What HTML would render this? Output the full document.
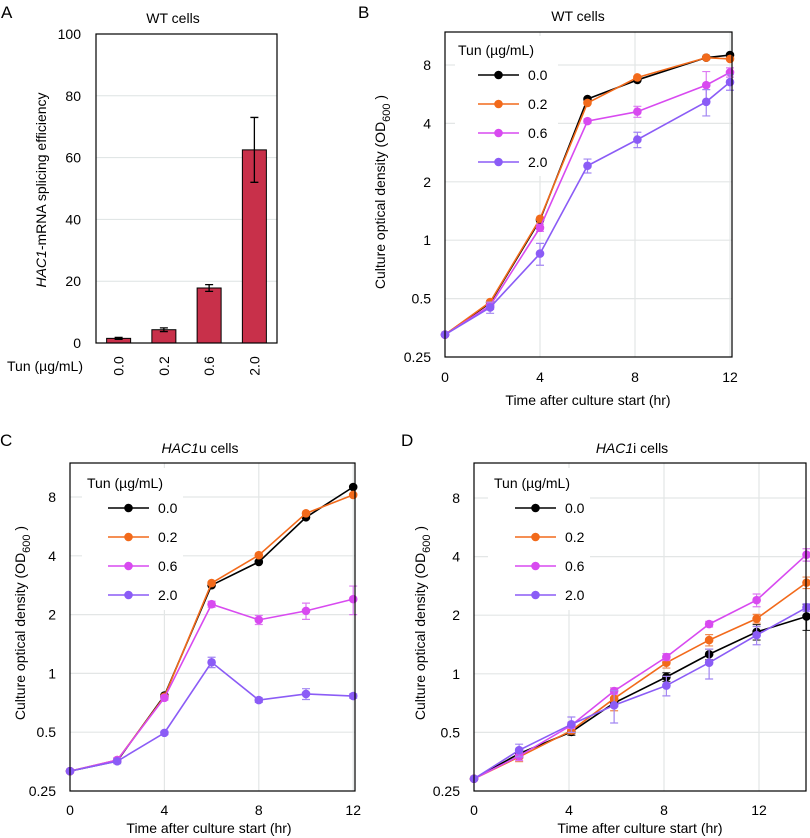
<!DOCTYPE html>
<html><head><meta charset="utf-8"><style>
html,body{margin:0;padding:0;background:#fff;}
svg{display:block;font-family:"Liberation Sans",sans-serif;}
</style></head><body>
<svg id="fig" width="810" height="838" viewBox="0 0 810 838" xmlns="http://www.w3.org/2000/svg"></svg>
<script>
// ---------- Panel A data ----------
const aCategories = ["0.0","0.2","0.6","2.0"];
const aValues = [1.5, 4.3, 17.8, 62.5];
const aErrors = [0.3, 0.6, 1.1, 10.5];
const aTicks = [0,20,40,60,80,100];
// ---------- Panel B data ----------
const bTimes = [0, 1.9, 4, 6, 8.1, 11, 12];
const bBlack = [0.326, 0.475, 1.27, 5.34, 6.7, 8.73, 9.0];
const bOrange = [0.326, 0.48, 1.29, 5.1, 6.9, 8.73, 8.6];
const bMagenta = [0.326, 0.46, 1.16, 4.11, 4.6, 6.3, 7.33];
const bPurple = [0.326, 0.45, 0.853, 2.42, 3.3, 5.17, 6.53];
const bMagentaErr = [0, 0.02, 0.05, 0.1, 0.3, 1.1, 0.4];
const bPurpleErr = [0, 0.03, 0.11, 0.2, 0.3, 0.8, 0.6];
// ---------- Panel C data ----------
const cTimes = [0, 2, 4, 6, 8, 10, 12];
const cBlack = [0.316, 0.356, 0.77, 2.83, 3.72, 6.3, 9.0];
const cOrange = [0.316, 0.36, 0.76, 2.9, 4.03, 6.6, 8.2];
const cMagenta = [0.316, 0.36, 0.75, 2.26, 1.88, 2.09, 2.4];
const cPurple = [0.316, 0.355, 0.496, 1.14, 0.73, 0.785, 0.766];
const cMagentaErr = [0, 0.01, 0.02, 0.08, 0.1, 0.2, 0.4];
const cPurpleErr = [0, 0.01, 0.01, 0.07, 0.02, 0.05, 0.02];
// ---------- Panel D data ----------
const dTimes = [0, 1.9, 4.1, 5.9, 8.1, 9.9, 11.9, 14];
const dBlack = [0.289, 0.389, 0.503, 0.708, 0.963, 1.26, 1.64, 1.97];
const dOrange = [0.289, 0.374, 0.511, 0.746, 1.14, 1.49, 1.92, 2.94];
const dMagenta = [0.289, 0.378, 0.544, 0.816, 1.22, 1.8, 2.39, 4.09];
const dPurple = [0.289, 0.405, 0.55, 0.689, 0.87, 1.14, 1.58, 2.19];
const dBlackErr = [0, 0.02, 0.02, 0.03, 0.05, 0.08, 0.15, 0.3];
const dOrangeErr = [0, 0.02, 0.02, 0.1, 0.07, 0.1, 0.1, 0.2];
const dMagentaErr = [0, 0.02, 0.02, 0.03, 0.05, 0.06, 0.18, 0.3];
const dPurpleErr = [0, 0.03, 0.05, 0.13, 0.1, 0.2, 0.17, 0.1];
const yTicksLog = [0.25, 0.5, 1, 2, 4, 8];
const xTicks = [0, 4, 8, 12];
const legendLabels = ["0.0","0.2","0.6","2.0"];

const NS = "http://www.w3.org/2000/svg";
const svg = document.getElementById("fig");
function el(tag, attrs, parent) {
  const e = document.createElementNS(NS, tag);
  for (const k in attrs) e.setAttribute(k, attrs[k]);
  (parent || svg).appendChild(e);
  return e;
}
function txt(s, attrs, parent) { const t = el("text", attrs, parent); t.textContent = s; return t; }
const COLORS = ["#000000", "#f26a1b", "#d84af0", "#8b5cf6"];
const ERRCOL = ["#333333", "#f08a50", "#dd7af2", "#a286f2"];

// ---------- Panel A ----------
(function(){
  const g = el("g", {});
  
  
  const L = 96, R = 277, T = 34, B = 343;
  const y = v => B - (v / 100) * (B - T);
  const step = (R - L) / aCategories.length;
  const x = i => L + step * (i + 0.5);
  const lab = txt("A", {x: 1, y: 18, "font-size": 17}, g);
  
  
  const t = txt("WT cells", {x: 173, y: 23, "font-size": 14, "text-anchor": "middle"}, g);
  
  
  aTicks.forEach(v => {
    if (v > 0 && v < 100) {
      const gl = el("line", {x1: L, x2: R, y1: y(v), y2: y(v), stroke: "#dde3e3", "stroke-width": 1}, g);
      
      
    }
    const tl = txt(String(v), {x: 81, y: y(v) + 5, "font-size": 14, "text-anchor": "end"}, g);
    
    
  });
  aValues.forEach((v, i) => {
    const bw = 24;
    const r = el("rect", {x: x(i) - bw/2, y: y(v), width: bw, height: B - y(v), fill: "#c8304a", stroke: "#000", "stroke-width": 1}, g);
    
    
    const e = aErrors[i];
    const eb = el("path", {d: `M${x(i)} ${y(v+e)}V${y(v-e)}M${x(i)-4} ${y(v+e)}h8M${x(i)-4} ${y(v-e)}h8`, stroke: "#000", "stroke-width": 1.3, fill: "none"}, g);
    
    
    const cl = txt(aCategories[i], {x: 0, y: 0, "font-size": 14, "text-anchor": "middle", transform: `translate(${x(i)+5},366) rotate(-90)`}, g);
    
    
  });
  const box = el("rect", {x: L, y: T, width: R - L, height: B - T, fill: "none", stroke: "#000", "stroke-width": 1.2}, g);
  
  
  const tun = txt("Tun (µg/mL)", {x: 7, y: 371, "font-size": 14}, g);
  
  
  const yt = el("text", {x: 0, y: 0, "font-size": 14, "text-anchor": "middle", transform: "translate(46,190) rotate(-90)"}, g);
  
  
  const i1 = el("tspan", {"font-style": "italic"}, yt); i1.textContent = "HAC1";
  const i2 = el("tspan", {}, yt); i2.textContent = "-mRNA splicing efficiency";
})();

// ---------- line panels ----------
function linePanel(cfg) {
  const g = el("g", {});
  
  
  const {L, R, T, B, x0, xPer, y025, dbl} = cfg;
  const x = t => x0 + t * xPer;
  const y = v => y025 - dbl * Math.log2(v / 0.25);
  const lab = txt(cfg.letter, {x: cfg.letterX, y: cfg.letterY, "font-size": 17}, g);
  
  
  const tt = el("text", {x: cfg.titleX, y: cfg.titleY, "font-size": 14, "text-anchor": "middle"}, g);
  
  
  cfg.title.forEach(p => { const s = el("tspan", p[1] ? {"font-style": "italic"} : {}, tt); s.textContent = p[0]; });
  yTicksLog.forEach(v => {
    if (v > 0.25) {
      const gl = el("line", {x1: L, x2: R, y1: y(v), y2: y(v), stroke: "#e3e6e6", "stroke-width": 1.2}, g);
      
      
    }
    const tl = txt(String(v), {x: L - 14, y: y(v) + 5, "font-size": 14, "text-anchor": "end"}, g);
    
    
  });
  xTicks.forEach(t => {
    if (t > 0) {
      const gl = el("line", {x1: x(t), x2: x(t), y1: T, y2: B, stroke: "#e3e6e6", "stroke-width": 1.2}, g);
      
      
    }
    const tl = txt(String(t), {x: x(t), y: cfg.xTickY, "font-size": 14, "text-anchor": "middle"}, g);
    
    
  });
  const lg = cfg.legend;
  const lbg = el("rect", {x: lg.bx, y: lg.by, width: lg.bw, height: lg.bh, fill: "#fff"}, g);
  
  
  cfg.series.forEach((s, si) => {
    const sg = el("g", {}, g);
    
    
    if (s.err) s.vals.forEach((v, i) => {
      const e = s.err[i]; if (!e) return;
      const eb = el("path", {d: `M${x(s.t[i])} ${y(v+e)}V${y(Math.max(v-e,0.01))}M${x(s.t[i])-4} ${y(v+e)}h8M${x(s.t[i])-4} ${y(Math.max(v-e,0.01))}h8`, stroke: ERRCOL[si], "stroke-width": 1.2, fill: "none"}, sg);
      
      
    });
    const pl = el("polyline", {points: s.vals.map((v, i) => x(s.t[i]) + "," + y(v)).join(" "), fill: "none", stroke: COLORS[si], "stroke-width": 1.6}, sg);
    
    
    s.vals.forEach((v, i) => {
      const c = el("circle", {cx: x(s.t[i]), cy: y(v), r: 4.3, fill: COLORS[si]}, sg);
      
      
    });
  });
  const box = el("rect", {x: L, y: T, width: R - L, height: B - T, fill: "none", stroke: "#000", "stroke-width": 1.2}, g);
  
  
  const lt = txt("Tun (µg/mL)", {x: lg.tx, y: lg.ty, "font-size": 14}, g);
  
  
  legendLabels.forEach((lbl, i) => {
    const eg = el("g", {}, g);
    
    
    const yy = lg.ys[i];
    el("line", {x1: lg.lx1, x2: lg.lx2, y1: yy, y2: yy, stroke: COLORS[i], "stroke-width": 1.6}, eg);
    el("circle", {cx: (lg.lx1 + lg.lx2) / 2, cy: yy, r: 4.3, fill: COLORS[i]}, eg);
    txt(lbl, {x: lg.lx2 + 9, y: yy + 5, "font-size": 14}, eg);
  });
  const xt = txt("Time after culture start (hr)", {x: cfg.xTitleX, y: cfg.xTitleY, "font-size": 14, "text-anchor": "middle"}, g);
  
  
  const yt = el("text", {x: 0, y: 0, "font-size": 14, "text-anchor": "middle", transform: `translate(${cfg.yTitleX},${cfg.yTitleY}) rotate(-90)`}, g);
  
  
  const a = el("tspan", {}, yt); a.textContent = "Culture optical density (OD";
  const b = el("tspan", {dy: 5, "font-size": 11}, yt); b.textContent = "600";
  const c = el("tspan", {dy: -5}, yt); c.textContent = " )";
}

linePanel({name: "panel-b", letter: "B", letterX: 358, letterY: 18, title: [["WT cells", false]], titleX: 578, titleY: 21,
  L: 445, R: 732, T: 32, B: 357, x0: 445, xPer: 23.75, y025: 357, dbl: 58.4, xTickY: 382, xTitleX: 588, xTitleY: 405,
  yTitleX: 385, yTitleY: 192,
  legend: {bx: 455, by: 36, bw: 103, bh: 140, tx: 458, ty: 55, lx1: 478, lx2: 519, ys: [75, 104, 133, 162]},
  series: [{t: bTimes, vals: bBlack}, {t: bTimes, vals: bOrange}, {t: bTimes, vals: bMagenta, err: bMagentaErr}, {t: bTimes, vals: bPurple, err: bPurpleErr}]});

linePanel({name: "panel-c", letter: "C", letterX: 0, letterY: 446, title: [["HAC1", true], ["u cells", false]], titleX: 200, titleY: 453,
  L: 70, R: 355, T: 463, B: 791, x0: 70, xPer: 23.6, y025: 791, dbl: 58.8, xTickY: 815, xTitleX: 209, xTitleY: 833,
  yTitleX: 25, yTitleY: 623,
  legend: {bx: 82, by: 468, bw: 101, bh: 142, tx: 87, ty: 488, lx1: 108, lx2: 149, ys: [508, 537, 566, 595]},
  series: [{t: cTimes, vals: cBlack}, {t: cTimes, vals: cOrange}, {t: cTimes, vals: cMagenta, err: cMagentaErr}, {t: cTimes, vals: cPurple, err: cPurpleErr}]});

linePanel({name: "panel-d", letter: "D", letterX: 401, letterY: 446, title: [["HAC1", true], ["i cells", false]], titleX: 632, titleY: 453,
  L: 474, R: 806, T: 463, B: 791, x0: 474, xPer: 23.75, y025: 791, dbl: 58.6, xTickY: 815, xTitleX: 640, xTitleY: 833,
  yTitleX: 425, yTitleY: 623,
  legend: {bx: 488, by: 468, bw: 102, bh: 142, tx: 494, ty: 488, lx1: 515, lx2: 556, ys: [508, 537, 566, 595]},
  series: [{t: dTimes, vals: dBlack, err: dBlackErr}, {t: dTimes, vals: dOrange, err: dOrangeErr}, {t: dTimes, vals: dMagenta, err: dMagentaErr}, {t: dTimes, vals: dPurple, err: dPurpleErr}]});
</script>
</body></html>
